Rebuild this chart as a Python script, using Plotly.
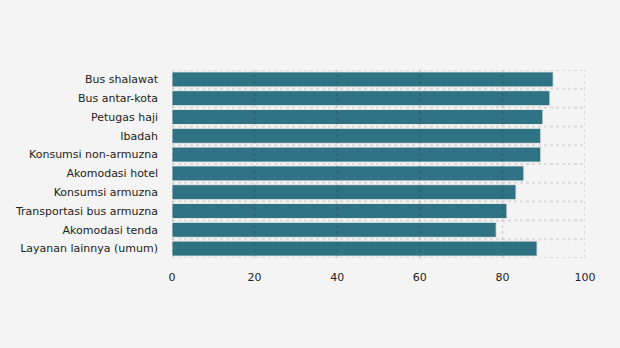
import plotly.graph_objects as go

categories = [
    "Bus shalawat",
    "Bus antar-kota",
    "Petugas haji",
    "Ibadah",
    "Konsumsi non-armuzna",
    "Akomodasi hotel",
    "Konsumsi armuzna",
    "Transportasi bus armuzna",
    "Akomodasi tenda",
    "Layanan lainnya (umum)",
]
scores = [92.3, 91.5, 89.8, 89.3, 89.3, 85.2, 83.3, 81.1, 78.5, 88.4]
x_ticks = [0, 20, 40, 60, 80, 100]

BG = "#f4f4f4"
BAR = "#2f7284"
GRID = "rgba(0,0,0,0.10)"
DOTS = dict(color=GRID, width=2, dash="3px,3px")

fig = go.Figure(
    go.Bar(
        x=scores,
        y=categories,
        orientation="h",
        marker=dict(color=BAR, line=dict(color="#e8e8e8", width=1)),
        hoverinfo="x+y",
    )
)

# dotted grid drawn over the bars: verticals at each x tick,
# horizontals at the category band boundaries
shapes = []
for v in x_ticks:
    shapes.append(dict(type="line", xref="x", yref="paper", x0=v, x1=v,
                       y0=0, y1=1, line=DOTS, layer="above"))
for i in range(len(categories) + 1):
    shapes.append(dict(type="line", xref="paper", yref="y", x0=0, x1=1,
                       y0=i - 0.5, y1=i - 0.5, line=DOTS, layer="above"))

fig.update_layout(
    width=620,
    height=348,
    margin=dict(l=172, r=35, t=70, b=90),
    paper_bgcolor=BG,
    plot_bgcolor=BG,
    bargap=0.2,
    showlegend=False,
    font=dict(family="DejaVu Sans", size=11, color="#222222"),
    shapes=shapes,
)

fig.update_xaxes(
    range=[0, 100],
    tickvals=x_ticks,
    showgrid=False,
    zeroline=False,
    showline=False,
    ticks="",
    ticklabelstandoff=11,
)

fig.update_yaxes(
    categoryorder="array",
    categoryarray=categories,
    range=[len(categories) - 0.5, -0.5],
    showgrid=False,
    showline=False,
    zeroline=False,
    ticks="",
    ticklabelstandoff=13,
)

fig.write_html("out.html")
